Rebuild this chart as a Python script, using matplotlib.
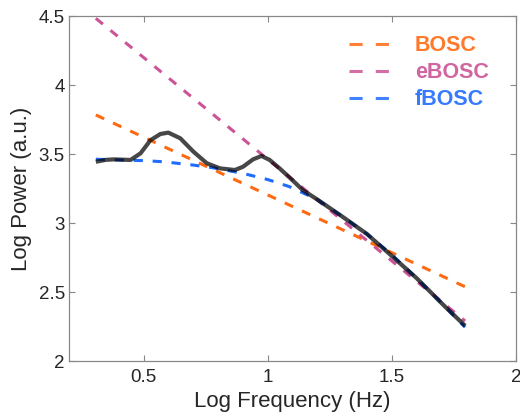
import numpy as np
import matplotlib
matplotlib.use("Agg")
import matplotlib.pyplot as plt
from matplotlib.lines import Line2D

plt.rcParams["font.family"] = ["Liberation Sans", "DejaVu Sans"]

# measured power spectrum (log-log)
freq = [0.308, 0.35, 0.381, 0.448, 0.488, 0.528, 0.568, 0.60, 0.648, 0.701, 0.755,
        0.808, 0.868, 0.901, 0.941, 0.975, 1.008, 1.048, 1.10, 1.141, 1.20, 1.301,
        1.40, 1.488, 1.60, 1.715, 1.795]
power = [3.444, 3.458, 3.461, 3.457, 3.505, 3.60, 3.645, 3.655, 3.614, 3.517, 3.433,
         3.396, 3.384, 3.408, 3.461, 3.486, 3.457, 3.396, 3.31, 3.239, 3.17, 3.046,
         2.92, 2.78, 2.60, 2.393, 2.255]

# fits
bosc_x = [0.308, 1.795]
bosc_y = [3.783, 2.538]
ebosc_x = [0.308, 1.795]
ebosc_y = [4.483, 2.29]
fbosc_x = [0.308, 0.4, 0.5, 0.58, 0.7, 0.78, 0.9, 1.0, 1.088, 1.2, 1.3, 1.4, 1.5,
           1.6, 1.7, 1.795]
fbosc_y = [3.462, 3.457, 3.452, 3.444, 3.42, 3.40, 3.36, 3.315, 3.263, 3.17, 3.048,
           2.92, 2.77, 2.60, 2.42, 2.245]

names = ["BOSC", "eBOSC", "fBOSC"]
colors = ["#ff6a13", "#cc5496", "#1f6cff"]

fig = plt.figure(figsize=(5.2, 4.19), dpi=100)
ax = fig.add_axes([0.1327, 0.1384, 0.8596, 0.8234])

ax.plot(bosc_x, bosc_y, color=colors[0], lw=2.2, dashes=(3, 3.2))
ax.plot(ebosc_x, ebosc_y, color=colors[1], lw=2.2, dashes=(3, 3.2))
ax.plot(fbosc_x, fbosc_y, color=colors[2], lw=2.2, dashes=(3, 3.2))
ax.plot(freq, power, color="black", alpha=0.72, lw=3.0, solid_capstyle="butt")

ax.set_xlim(0.2, 2.0)
ax.set_ylim(2.0, 4.5)
ax.set_xticks([0.5, 1, 1.5, 2])
ax.set_xticklabels(["0.5", "1", "1.5", "2"])
ax.set_yticks([2, 2.5, 3, 3.5, 4, 4.5])
ax.set_yticklabels(["2", "2.5", "3", "3.5", "4", "4.5"])
ax.tick_params(direction="in", length=4, width=0.8, color="#888888",
               labelsize=13.5, labelcolor="#262626", top=True, right=True)
ax.tick_params(axis="x", pad=6)
ax.tick_params(axis="y", pad=3)
for s in ax.spines.values():
    s.set_color("#888888")
    s.set_linewidth(0.9)

ax.set_xlabel("Log Frequency (Hz)", fontsize=16, color="#262626", labelpad=3)
ax.set_ylabel("Log Power (a.u.)", fontsize=16, color="#262626", labelpad=5)

# legend handles: two long dashes like the original
handles = [Line2D([], [], color=c, alpha=0.85, lw=2.2, dashes=(4.3, 4.3)) for c in colors]
leg = ax.legend(handles, names, loc="upper right", frameon=False,
                prop={"weight": "bold", "size": 15.5}, handlelength=1.86,
                handletextpad=1.2, labelspacing=0.28,
                bbox_to_anchor=(0.982, 1.0))
for t, c in zip(leg.get_texts(), colors):
    t.set_color(c)
    t.set_alpha(0.9)

fig.savefig("out.png", dpi=100)
